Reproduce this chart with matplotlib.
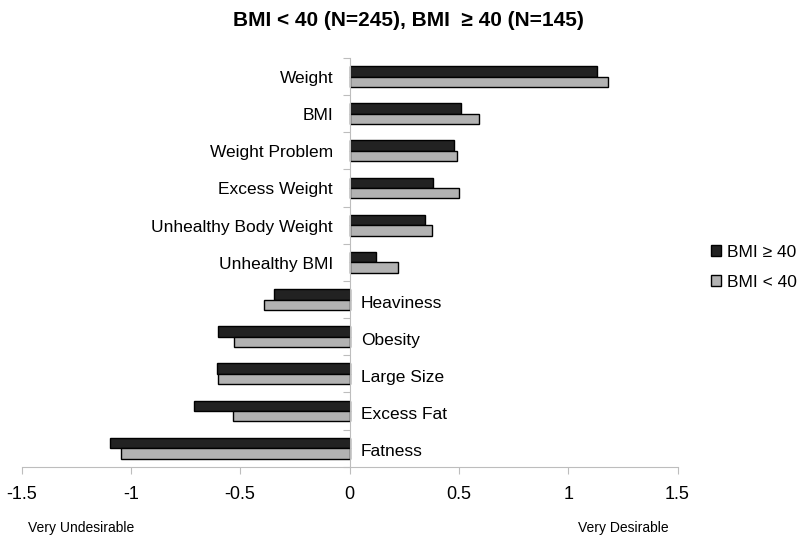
import matplotlib
matplotlib.use("Agg")
import matplotlib.pyplot as plt
from matplotlib.patches import Patch
import numpy as np

plt.rcParams['font.family'] = ['Liberation Sans', 'DejaVu Sans']

categories = ["Weight", "BMI", "Weight Problem", "Excess Weight", "Unhealthy Body Weight",
              "Unhealthy BMI", "Heaviness", "Obesity", "Large Size", "Excess Fat", "Fatness"]
bmi_ge40 = [1.13, 0.51, 0.48, 0.38, 0.345, 0.12, -0.345, -0.60, -0.605, -0.71, -1.095]
bmi_lt40 = [1.18, 0.59, 0.49, 0.50, 0.375, 0.22, -0.39, -0.53, -0.60, -0.535, -1.045]
xticks = [-1.5, -1, -0.5, 0, 0.5, 1, 1.5]
xticklabels = ["-1.5", "-1", "-0.5", "0", "0.5", "1", "1.5"]

fig = plt.figure(figsize=(8, 5.43), dpi=100)
ax = fig.add_axes([0.0269, 0.1405, 0.820, 0.7527])

n = len(categories)
y = np.arange(n)[::-1].astype(float)
h = 0.28
dark = "#222222"
light = "#b2b2b2"
ax.barh(y + h / 2, bmi_ge40, height=h, color=dark, edgecolor="black", linewidth=1)
ax.barh(y - h / 2, bmi_lt40, height=h, color=light, edgecolor="black", linewidth=1)

ax.set_xlim(-1.5, 1.5)
ax.set_ylim(-0.5, n - 0.5)

spine_col = "#bdbdbd"
for s in ["top", "right"]:
    ax.spines[s].set_visible(False)
ax.spines["left"].set_position(("data", 0))
ax.spines["left"].set_color(spine_col)
ax.spines["bottom"].set_color(spine_col)

ax.set_xticks(xticks)
ax.set_xticklabels(xticklabels, fontsize=13)
ax.set_yticks(np.arange(-0.5, n, 1.0))
ax.set_yticklabels([])
ax.tick_params(axis="both", color=spine_col, length=5, direction="out")
ax.tick_params(axis="x", pad=9)

for yi, cat, v in zip(y, categories, bmi_ge40):
    if v >= 0:
        ax.text(-0.075, yi - 0.05, cat, ha="right", va="center", fontsize=12.5)
    else:
        ax.text(0.053, yi - 0.1, cat, ha="left", va="center", fontsize=12.5)

fig.text(0.51, 0.963, "BMI < 40 (N=245), BMI  \u2265 40 (N=145)", ha="center", va="center",
         fontsize=15, fontweight="bold")
fig.text(0.035, 0.027, "Very Undesirable", ha="left", va="center", fontsize=10)
fig.text(0.723, 0.027, "Very Desirable", ha="left", va="center", fontsize=10)

handles = [Patch(facecolor=dark, edgecolor="black", label="BMI \u2265 40"),
           Patch(facecolor=light, edgecolor="black", label="BMI < 40")]
fig.legend(handles=handles, loc="center left", bbox_to_anchor=(0.88, 0.508), frameon=False,
           fontsize=12.5, handlelength=0.6, handleheight=0.6, handletextpad=0.35,
           labelspacing=0.85, borderaxespad=0)

fig.savefig("out.png", dpi=100)
